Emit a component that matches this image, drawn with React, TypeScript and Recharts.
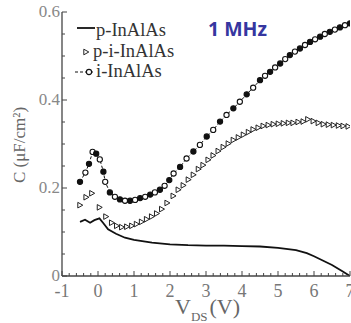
import { ComposedChart, Line, XAxis, YAxis } from 'recharts';

// V_DS (V)
const pX = [-0.5, -0.36, -0.22, -0.1, 0.04, 0.15, 0.28, 0.5, 0.75, 1, 1.5, 2, 2.5, 3, 3.5, 4, 4.5, 5, 5.5, 5.8, 6, 6.3, 6.5, 6.8, 7];
const pC = [0.123, 0.128, 0.121, 0.127, 0.131, 0.12, 0.106, 0.096, 0.087, 0.082, 0.076, 0.072, 0.07, 0.069, 0.069, 0.068, 0.067, 0.064, 0.059, 0.052, 0.045, 0.033, 0.025, 0.01, 0];

const piX = [-0.5, -0.33, -0.17, 0.04, 0.22, 0.38, 0.52, 0.66, 0.8, 0.94, 1.07, 1.21, 1.35, 1.49, 1.63, 1.77, 1.92, 2.09, 2.23, 2.37, 2.51, 2.65, 2.79, 2.92, 3.06, 3.2, 3.34, 3.48, 3.62, 3.76, 3.9, 4.04, 4.18, 4.31, 4.45, 4.59, 4.73, 4.87, 5.01, 5.15, 5.29, 5.42, 5.56, 5.7, 5.83, 5.98, 6.12, 6.26, 6.4, 6.54, 6.68, 6.81, 6.95];
const piC = [0.161, 0.179, 0.188, 0.156, 0.135, 0.121, 0.114, 0.111, 0.112, 0.114, 0.118, 0.123, 0.129, 0.135, 0.142, 0.152, 0.166, 0.182, 0.196, 0.206, 0.219, 0.23, 0.243, 0.252, 0.264, 0.274, 0.284, 0.293, 0.301, 0.309, 0.315, 0.321, 0.327, 0.333, 0.337, 0.341, 0.343, 0.345, 0.346, 0.347, 0.348, 0.348, 0.35, 0.351, 0.356, 0.352, 0.348, 0.345, 0.344, 0.343, 0.342, 0.341, 0.34];

const iX = [-0.5, -0.35, -0.25, -0.15, -0.05, 0.05, 0.15, 0.2, 0.33, 0.47, 0.61, 0.75, 0.89, 1.03, 1.17, 1.31, 1.45, 1.58, 1.72, 1.85, 1.98, 2.1, 2.28, 2.46, 2.65, 2.83, 3.02, 3.2, 3.39, 3.57, 3.76, 3.94, 4.13, 4.31, 4.5, 4.64, 4.78, 4.92, 5.06, 5.2, 5.33, 5.47, 5.61, 5.75, 5.89, 6.03, 6.17, 6.3, 6.44, 6.58, 6.72, 6.86, 7];
const iC = [0.214, 0.235, 0.255, 0.282, 0.278, 0.265, 0.237, 0.214, 0.19, 0.18, 0.174, 0.171, 0.171, 0.173, 0.177, 0.18, 0.185, 0.19, 0.196, 0.205, 0.218, 0.233, 0.248, 0.267, 0.283, 0.298, 0.317, 0.332, 0.351, 0.366, 0.381, 0.396, 0.413, 0.428, 0.445, 0.455, 0.464, 0.474, 0.483, 0.493, 0.502, 0.51, 0.517, 0.525, 0.532, 0.538, 0.544, 0.55, 0.555, 0.56, 0.565, 0.57, 0.574];

const xMajor = [-1, 0, 1, 2, 3, 4, 5, 6, 7];
const yMajor = [0, 0.2, 0.4, 0.6];
const yLabels = ['0', '0.2', '0.4', '0.6'];

const xTicks = Array.from({ length: 41 }, (_, i) => +(-1 + i * 0.2).toFixed(2));
const yTicks = Array.from({ length: 13 }, (_, i) => +(i * 0.05).toFixed(2));

const pData = pX.map((x, i) => ({ x, y: pC[i] }));
const piData = piX.map((x, i) => ({ x, y: piC[i] }));
const iData = iX.map((x, i) => ({ x, y: iC[i] }));

const serif = '"Liberation Serif", "Times New Roman", serif';
const axisColor = '#444';

const isMajorX = (v: number) => xMajor.some((m) => Math.abs(m - v) < 1e-6);
const majorY = (v: number) => yMajor.findIndex((m) => Math.abs(m - v) < 1e-6);

function BottomTick({ x, y, payload }: any) {
  const major = isMajorX(payload.value);
  return (
    <g>
      <line x1={x} x2={x} y1={y} y2={y - (major ? 5 : 3)} stroke={axisColor} />
      {major && (
        <text x={x} y={y + 21} textAnchor="middle" fontFamily={serif} fontSize={18} fill="#777">
          {payload.value}
        </text>
      )}
    </g>
  );
}

function TopTick({ x, y, payload }: any) {
  const major = isMajorX(payload.value);
  return <line x1={x} x2={x} y1={y} y2={y + (major ? 5 : 3)} stroke="#888" />;
}

function LeftTick({ x, y, payload }: any) {
  const k = majorY(payload.value);
  return (
    <g>
      <line x1={x} x2={x + (k >= 0 ? 5 : 3)} y1={y} y2={y} stroke={axisColor} />
      {k >= 0 && (
        <text x={x - 2} y={y + 5} textAnchor="end" fontFamily={serif} fontSize={17} fill="#888">
          {yLabels[k]}
        </text>
      )}
    </g>
  );
}

function RightTick({ x, y, payload }: any) {
  const k = majorY(payload.value);
  return <line x1={x} x2={x - (k >= 0 ? 5 : 3)} y1={y} y2={y} stroke="#888" />;
}

function TriDot({ cx, cy }: any) {
  if (cx == null || cy == null) return null;
  return (
    <path
      d={`M${cx - 2.2},${cy - 2.8} L${cx + 2.8},${cy} L${cx - 2.2},${cy + 2.8} Z`}
      fill="#fff"
      stroke="#222"
      strokeWidth={1}
    />
  );
}

function CircDot({ cx, cy, index }: any) {
  if (cx == null || cy == null) return null;
  return <circle cx={cx} cy={cy} r={2.6} fill={index % 2 ? '#fff' : '#111'} stroke="#111" strokeWidth={1.1} />;
}

function YLabel({ viewBox }: any) {
  const cy = viewBox.y + viewBox.height / 2 + 1;
  return (
    <text
      x={19}
      y={cy}
      transform={`rotate(-90, 19, ${cy})`}
      textAnchor="middle"
      dominantBaseline="central"
      fontFamily={serif}
      fontSize={17}
      fill="#666"
    >
      C (μF/cm²)
    </text>
  );
}

function XLabel() {
  return (
    <text x={175} y={314} fontFamily={serif} fill="#666">
      <tspan fontSize={22}>V</tspan>
      <tspan fontSize={13} dy={7}>DS</tspan>
      <tspan fontSize={22} dy={-7} dx={2}>(V)</tspan>
    </text>
  );
}

function LegendBox() {
  const t = { fontFamily: serif, fontSize: 18.5, fill: '#333' };
  return (
    <g transform="translate(70, 18)">
      <line x1={7} x2={25} y1={10} y2={10} stroke="#111" strokeWidth={1.8} />
      <text x={26} y={18} {...t}>p-InAlAs</text>
      <TriDot cx={16} cy={34} />
      <text x={23} y={39} {...t}>p-i-InAlAs</text>
      <line x1={5} x2={23} y1={54} y2={54} stroke="#111" strokeWidth={1.2} strokeDasharray="3 2" />
      <CircDot cx={19} cy={54} index={1} />
      <text x={26} y={59} {...t}>i-InAlAs</text>
    </g>
  );
}

export default function App() {
  return (
    <div style={{ position: 'absolute', left: 0, top: 0, width: 351, height: 323, background: '#fff' }}>
      <ComposedChart width={351} height={323} margin={{ top: 12, right: 1, left: 2, bottom: 7 }}>
        <XAxis
          dataKey="x"
          type="number"
          domain={[-1, 7]}
          ticks={xTicks}
          interval={0}
          allowDataOverflow
          height={40}
          tickSize={0}
          tickMargin={0}
          tickLine={false}
          tick={<BottomTick />}
          axisLine={{ stroke: axisColor, strokeWidth: 1.3 }}
          label={<XLabel />}
        />
        <XAxis
          xAxisId="top"
          orientation="top"
          dataKey="x"
          type="number"
          domain={[-1, 7]}
          ticks={xTicks}
          interval={0}
          height={0}
          tickSize={0}
          tickMargin={0}
          tickLine={false}
          tick={<TopTick />}
          axisLine={{ stroke: '#999' }}
        />
        <YAxis
          dataKey="y"
          type="number"
          domain={[0, 0.6]}
          ticks={yTicks}
          interval={0}
          allowDataOverflow
          width={60}
          tickSize={0}
          tickMargin={0}
          tickLine={false}
          tick={<LeftTick />}
          axisLine={{ stroke: axisColor, strokeWidth: 1.3 }}
          label={<YLabel />}
        />
        <YAxis
          yAxisId="right"
          orientation="right"
          dataKey="y"
          type="number"
          domain={[0, 0.6]}
          ticks={yTicks}
          interval={0}
          width={0}
          tickSize={0}
          tickMargin={0}
          tickLine={false}
          tick={<RightTick />}
          axisLine={{ stroke: '#999', strokeDasharray: '3 2' }}
        />
        <Line
          data={pData}
          dataKey="y"
          type="linear"
          stroke="#111"
          strokeWidth={1.8}
          dot={false}
          isAnimationActive={false}
          name="p-InAlAs"
        />
        <Line
          data={piData}
          dataKey="y"
          type="linear"
          stroke="none"
          dot={<TriDot />}
          isAnimationActive={false}
          name="p-i-InAlAs"
        />
        <Line
          data={iData}
          dataKey="y"
          type="linear"
          stroke="#111"
          strokeWidth={1}
          strokeDasharray="3 2"
          dot={<CircDot />}
          isAnimationActive={false}
          name="i-InAlAs"
        />
        <LegendBox />
        <text
          x={208}
          y={36}
          fontFamily='"Open Sans", sans-serif'
          fontWeight={700}
          fontSize={19.5}
          fill="#3636a0"
        >
          1 MHz
        </text>
      </ComposedChart>
    </div>
  );
}
